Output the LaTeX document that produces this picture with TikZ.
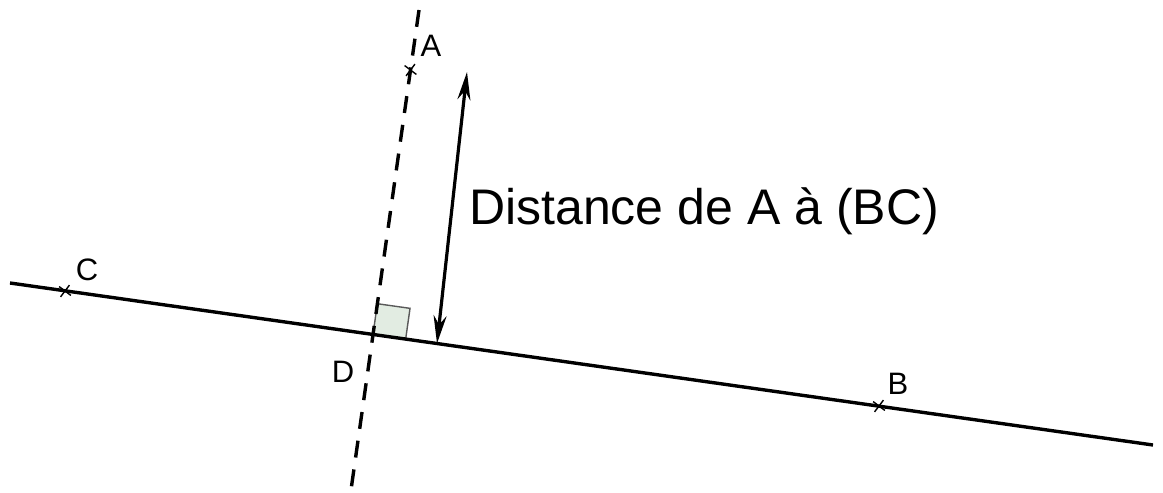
\documentclass[tikz,border=0pt]{standalone}
\usepackage{fontspec}
\setmainfont{Liberation Sans}
\usetikzlibrary{arrows.meta, shapes.misc, calc}
\definecolor{vertpale}{RGB}{226,236,226}
\tikzset{
  droite/.style={line width=3.4pt, draw=black},
  perp/.style={line width=3.4pt, draw=black, dash pattern=on 17pt off 12pt},
  croix/.style={cross out, draw=black, line width=1.4pt, minimum size=9pt, inner sep=0pt},
  point/.style={font=\fontsize{31}{34}\selectfont, inner sep=0pt},
  mesure/.style={{Stealth[length=28pt, width=13pt]}-{Stealth[length=28pt, width=13pt]}, line width=3.2pt},
  angledroit/.style={draw=black!65, line width=1.4pt, fill=vertpale},
}

\begin{document}
\begin{tikzpicture}[x=1pt, y=-1pt]
  \useasboundingbox (0,0) rectangle (1163,493);

  % les deux droites
  \coordinate (g) at (10,283);
  \coordinate (h) at (1153,445);
  \coordinate (haut) at (419,10);
  \coordinate (bas) at (351,490);
  \coordinate (D) at (373,334.4);

  % angle droit en D
  \coordinate (q1) at ($(D)!33pt!(h)$);
  \coordinate (q2) at ($(D)!31pt!(haut)$);
  \coordinate (q3) at ($(q1)+(q2)-(D)$);
  \draw[angledroit] (D) -- (q1) -- (q3) -- (q2) -- cycle;

  \draw[droite] (g) -- (h);
  \draw[perp] (haut) -- (bas);

  % points
  \node[croix, rotate=8] (ptA) at (410.5,70) {};
  \node[croix, rotate=8] (ptC) at (65,291) {};
  \node[croix, rotate=8] (ptB) at (879,406) {};

  \node[point] (labA) at (431,46) {A};
  \node[point] (labC) at (87,270) {C};
  \node[point] (labB) at (898,384) {B};
  \node[point] (labD) at (343,372) {D};

  % distance
  \coordinate (pied) at (437,343.5);
  \coordinate (sommet) at (467,72);
  \draw[mesure] (pied) -- (sommet);
  \node[anchor=west, font=\fontsize{50}{54}\selectfont, inner sep=0pt] (dist) at (469,211) {Distance de A à (BC)};
\end{tikzpicture}
\end{document}
